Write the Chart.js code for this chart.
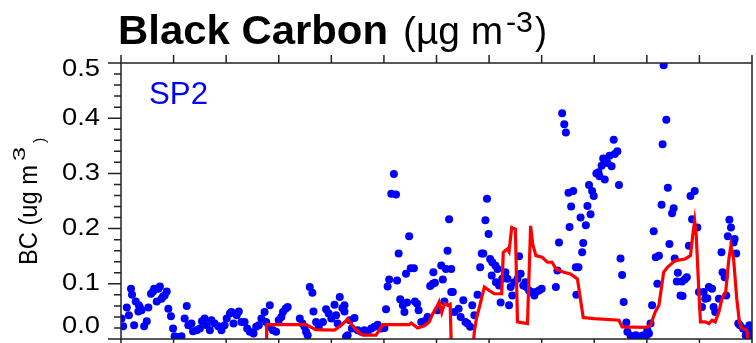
<!DOCTYPE html>
<html>
<head>
<meta charset="utf-8">
<script src="https://cdn.jsdelivr.net/npm/chart.js@4.4.0/dist/chart.umd.min.js"></script>
<style>
  html, body { margin: 0; padding: 0; background: #fff; }
  canvas { display: block; }
</style>
</head>
<body>
<canvas id="bcChart" width="756" height="343"></canvas>
<script>
// SP2 measurements (blue dots): time (h) and BC (ug m-3)
const sp2Hours = [
  0.01, 0.04, 0.11, 0.15, 0.19, 0.21, 0.25, 0.28, 0.33, 0.34, 0.36, 0.39, 0.44, 0.49, 0.52, 0.57,
  0.61, 0.63, 0.68, 0.71, 0.74, 0.77, 0.80, 0.83, 0.87, 0.90, 0.95, 0.99, 1.02, 1.09, 1.15, 1.21,
  1.25, 1.28, 1.34, 1.37, 1.44, 1.50, 1.54, 1.59, 1.63, 1.69, 1.72, 1.78, 1.85, 1.91, 1.97, 2.01,
  2.07, 2.10, 2.14, 2.20, 2.24, 2.29, 2.35, 2.40, 2.45, 2.52, 2.57, 2.62, 2.67, 2.73, 2.76, 2.83,
  2.81, 2.89, 2.95, 3.00, 3.05, 3.08, 3.13, 3.17, 3.40, 3.45, 3.49, 3.52, 3.55, 3.59, 3.64, 3.66,
  3.71, 3.76, 3.84, 3.90, 3.95, 4.00, 4.06, 4.09, 4.12, 4.16, 4.21, 4.25, 4.28, 4.25, 4.35, 4.44,
  4.39, 4.31, 4.50, 4.57, 4.63, 4.69, 4.76, 4.82, 4.88, 4.95, 5.01, 5.04, 5.07, 5.10, 5.14, 5.19,
  5.23, 5.25, 5.28, 5.31, 5.36, 5.39, 5.42, 5.44, 5.48, 5.51, 5.57, 5.59, 5.63, 5.66, 5.71, 5.77,
  5.83, 5.88, 5.93, 5.94, 5.97, 6.02, 6.09, 6.12, 6.15, 6.18, 6.21, 6.24, 6.28, 6.28, 6.31, 6.34,
  6.42, 6.46, 6.51, 6.55, 6.59, 6.64, 6.68, 6.72, 6.78, 6.83, 6.86, 6.89, 6.93, 6.96, 6.99, 7.02,
  7.06, 7.05, 7.12, 7.13, 7.16, 7.19, 7.22, 7.25, 7.31, 7.35, 7.38, 7.41, 7.44, 7.48, 7.54, 7.57,
  7.60, 7.65, 7.69, 7.71, 7.76, 7.81, 7.86, 7.89, 7.95, 8.00, 8.27, 8.30, 8.33, 8.39, 8.43, 8.46,
  8.53, 8.56, 8.51, 8.60, 8.65, 8.66, 8.70, 8.74, 8.77, 8.79, 8.84, 8.87, 8.90, 8.93, 8.96, 8.99,
  9.04, 9.08, 9.10, 9.14, 9.17, 9.20, 9.25, 9.29, 9.33, 9.37, 9.39, 9.44, 9.47, 9.50, 9.53, 9.56,
  9.61, 9.63, 9.69, 9.79, 9.85, 9.91, 9.94, 9.98, 10.01, 10.04, 10.07, 10.10, 10.20, 10.17, 10.23, 10.13,
  10.32, 10.37, 10.30, 10.40, 10.28, 10.43, 10.48, 10.51, 10.53, 10.59, 10.57, 10.64, 10.68, 10.67, 10.72, 10.76,
  10.80, 10.83, 10.91, 10.86, 10.96, 10.99, 11.08, 11.05, 11.11, 11.18, 11.24, 11.15, 11.27, 11.30, 11.37, 11.42,
  11.44, 11.48, 11.51, 11.54, 11.57, 11.60, 11.65, 11.67, 11.70, 11.74, 11.77, 11.83, 11.88, 11.95, 11.97, 11.99
];
const sp2BC = [
  0.037, 0.023, 0.057, 0.043, 0.091, 0.080, 0.025, 0.068, 0.050, 0.061, 0.057, 0.052, 0.023, 0.032, 0.057, 0.082,
  0.086, 0.091, 0.068, 0.091, 0.095, 0.073, 0.077, 0.079, 0.086, 0.055, 0.041, 0.019, 0.005, 0.003, 0.005, 0.037,
  0.060, 0.025, 0.028, 0.014, 0.016, 0.019, 0.032, 0.037, 0.025, 0.016, 0.034, 0.028, 0.023, 0.016, 0.025, 0.037,
  0.046, 0.049, 0.028, 0.043, 0.050, 0.031, 0.031, 0.019, 0.013, 0.010, 0.022, 0.025, 0.037, 0.049, 0.031, 0.061,
  0.022, 0.016, 0.013, 0.034, 0.040, 0.049, 0.055, 0.058, 0.037, 0.028, 0.022, 0.013, 0.007, 0.094, 0.084, 0.050,
  0.031, 0.022, 0.031, 0.054, 0.046, 0.037, 0.062, 0.043, 0.028, 0.076, 0.056, 0.050, 0.004, 0.061, 0.034, 0.038,
  0.019, 0.007, 0.016, 0.013, 0.016, 0.013, 0.019, 0.022, 0.026, 0.019, 0.020, 0.054, 0.095, 0.108, 0.263, 0.299,
  0.262, 0.106, 0.155, 0.072, 0.061, 0.049, 0.118, 0.066, 0.186, 0.128, 0.128, 0.068, 0.064, 0.052, 0.031, 0.032,
  0.040, 0.096, 0.100, 0.121, 0.102, 0.052, 0.133, 0.108, 0.068, 0.127, 0.160, 0.217, 0.085, 0.127, 0.085, 0.049,
  0.055, 0.040, 0.070, 0.031, 0.028, 0.022, 0.061, 0.043, 0.080, 0.130, 0.155, 0.155, 0.215, 0.254, 0.190, 0.145,
  0.139, 0.115, 0.133, 0.103, 0.127, 0.097, 0.066, 0.109, 0.121, 0.109, 0.061, 0.094, 0.079, 0.103, 0.109, 0.150,
  0.118, 0.097, 0.103, 0.094, 0.088, 0.085, 0.079, 0.085, 0.088, 0.091, 0.094, 0.124, 0.175, 0.409, 0.389, 0.374,
  0.203, 0.240, 0.265, 0.268, 0.130, 0.080, 0.130, 0.220, 0.157, 0.174, 0.206, 0.241, 0.279, 0.226, 0.268, 0.259,
  0.300, 0.302, 0.295, 0.314, 0.327, 0.289, 0.319, 0.332, 0.313, 0.361, 0.335, 0.340, 0.279, 0.146, 0.116, 0.067,
  0.030, 0.013, 0.006, 0.007, 0.004, 0.006, 0.007, 0.004, 0.016, 0.010, 0.028, 0.061, 0.100, 0.148, 0.151, 0.195,
  0.496, 0.397, 0.353, 0.274, 0.243, 0.172, 0.228, 0.237, 0.146, 0.120, 0.104, 0.079, 0.078, 0.104, 0.108, 0.112,
  0.169, 0.259, 0.268, 0.217, 0.202, 0.085, 0.085, 0.058, 0.073, 0.094, 0.091, 0.074, 0.058, 0.049, 0.073, 0.157,
  0.121, 0.112, 0.079, 0.186, 0.216, 0.202, 0.175, 0.181, 0.155, 0.028, 0.025, 0.019, 0.007, 0.025, 0.016, 0.007
];

// model curve (red line); values below 0 drop out of the plot
const modelHours = [
  2.76, 2.77, 3.52, 3.70, 4.06, 4.19, 4.31, 4.47, 4.60, 4.85, 4.98, 5.48, 5.52, 5.64, 5.77, 5.86,
  5.93, 5.99, 6.05, 6.10, 6.15, 6.21, 6.26, 6.28, 6.70, 6.72, 6.76, 6.84, 6.91, 7.00, 7.10, 7.24,
  7.27, 7.35, 7.38, 7.43, 7.50, 7.54, 7.73, 7.79, 7.83, 7.89, 8.01, 8.11, 8.20, 8.27, 8.42, 8.55,
  8.68, 8.79, 9.00, 9.47, 9.53, 9.98, 10.07, 10.16, 10.23, 10.32, 10.39, 10.54, 10.73, 10.83, 10.88, 10.91,
  10.94, 10.99, 11.02, 11.11, 11.18, 11.24, 11.30, 11.37, 11.43, 11.50, 11.56, 11.60, 11.65, 11.71, 11.76, 11.81,
  11.90, 11.94
];
const modelBC = [
  -0.01, 0.026, 0.026, 0.017, 0.016, 0.025, 0.036, 0.016, 0.007, 0.007, 0.026, 0.026, 0.029, 0.020, 0.024, 0.031,
  0.046, 0.055, 0.067, 0.048, 0.064, 0.061, 0.063, -0.01, -0.01, 0.014, 0.037, 0.067, 0.094, 0.088, 0.082, 0.082,
  0.157, 0.163, 0.158, 0.202, 0.199, 0.031, 0.028, 0.205, 0.172, 0.151, 0.148, 0.139, 0.139, 0.127, 0.121, 0.118,
  0.109, 0.039, 0.037, 0.034, 0.022, 0.021, 0.025, 0.049, 0.061, 0.121, 0.130, 0.142, 0.145, 0.151, 0.193, 0.214,
  0.187, 0.085, 0.031, 0.031, 0.028, 0.034, 0.031, 0.049, 0.073, 0.085, 0.145, 0.169, 0.145, 0.073, 0.031, 0.019,
  0.016, -0.01
];

const xTickHours = [0, 1, 2, 3, 4, 5, 6, 7, 8, 9, 10, 11, 12];
const yTickValues = [0, 0.1, 0.2, 0.3, 0.4, 0.5];
const yTickLabels = ['0.0', '0.1', '0.2', '0.3', '0.4', '0.5'];
const yMinorStep = 0.02;

const sp2Points = sp2Hours.map((h, i) => ({ x: h, y: sp2BC[i] }));
const modelPoints = modelHours.map((h, i) => ({ x: h, y: modelBC[i] }));

// draw text squeezed/stretched to a given width
function fitText(ctx, text, x, y, width) {
    const w = ctx.measureText(text).width;
    ctx.save();
    ctx.translate(x, y);
    ctx.scale(width / w, 1);
    ctx.fillText(text, 0, 0);
    ctx.restore();
}

const frameAndText = {
    id: 'frameAndText',
    afterDraw(chart) {
        const ctx = chart.ctx;
        const a = chart.chartArea;
        const xs = chart.scales.x;
        const ys = chart.scales.y;

        ctx.save();
        ctx.strokeStyle = '#222';
        ctx.lineWidth = 1.5;
        ctx.strokeRect(a.left, a.top, a.right - a.left, a.bottom - a.top);

        // y ticks, major + minor, pointing out
        ctx.beginPath();
        const nMinor = Math.round(0.5 / yMinorStep);
        for (let i = 0; i <= nMinor; i++) {
            const y = ys.getPixelForValue(i * yMinorStep);
            const len = i % 5 === 0 ? 13 : 7;
            ctx.moveTo(a.left - len, y);
            ctx.lineTo(a.left, y);
        }
        // x ticks on top and bottom
        xTickHours.forEach(h => {
            const x = xs.getPixelForValue(h);
            ctx.moveTo(x, a.top - 8);
            ctx.lineTo(x, a.top);
            ctx.moveTo(x, a.bottom);
            ctx.lineTo(x, a.bottom + 8);
        });
        ctx.stroke();

        // y tick labels
        ctx.fillStyle = '#000';
        ctx.font = '24px "Liberation Sans", Arial, sans-serif';
        ctx.textAlign = 'left';
        ctx.textBaseline = 'middle';
        yTickValues.forEach((v, i) => {
            let y = ys.getPixelForValue(v);
            if (i === 0) y -= 13;
            if (i === yTickValues.length - 1) y += 6;
            fitText(ctx, yTickLabels[i], 62, y, 38);
        });

        // y axis title
        ctx.save();
        ctx.translate(37, 265);
        ctx.rotate(-Math.PI / 2);
        ctx.textBaseline = 'alphabetic';
        ctx.font = '25px "Liberation Sans", Arial, sans-serif';
        fitText(ctx, 'BC (ug m', 0, 0, 100);
        ctx.font = '16px "Liberation Sans", Arial, sans-serif';
        fitText(ctx, '3', 104, -12, 14);
        ctx.fillText(')', 122, 8);
        ctx.restore();

        // chart title
        ctx.textBaseline = 'alphabetic';
        ctx.font = 'bold 40px "Liberation Sans", Arial, sans-serif';
        fitText(ctx, 'Black Carbon', 118, 44, 270);
        ctx.font = '38px "Liberation Sans", Arial, sans-serif';
        fitText(ctx, '(\u00b5g m', 403, 44, 100);
        ctx.font = '29px "Liberation Sans", Arial, sans-serif';
        fitText(ctx, '-3', 506, 32, 27);
        ctx.font = '38px "Liberation Sans", Arial, sans-serif';
        fitText(ctx, ')', 535, 44, 12);

        // instrument label
        ctx.fillStyle = '#0000ff';
        ctx.font = '31px "Liberation Sans", Arial, sans-serif';
        fitText(ctx, 'SP2', 149, 104, 59);
        ctx.restore();
    }
};

const ctx = document.getElementById('bcChart').getContext('2d');
new Chart(ctx, {
    type: 'scatter',
    data: {
        datasets: [{
            type: 'line',
            label: 'Model',
            data: modelPoints,
            borderColor: '#ff0000',
            borderWidth: 3.2,
            pointRadius: 0,
            tension: 0,
            fill: false
        }, {
            label: 'SP2',
            data: sp2Points,
            backgroundColor: '#0000ff',
            borderWidth: 0,
            pointRadius: 4
        }]
    },
    options: {
        responsive: false,
        animation: false,
        devicePixelRatio: 1,
        layout: { padding: { left: 121, right: 2, top: 63, bottom: 2 } },
        plugins: { legend: { display: false }, tooltip: { enabled: false } },
        scales: {
            x: { type: 'linear', min: 0, max: 12, display: false },
            y: { type: 'linear', min: 0, max: 0.5, display: false }
        }
    },
    plugins: [frameAndText]
});
</script>
</body>
</html>
